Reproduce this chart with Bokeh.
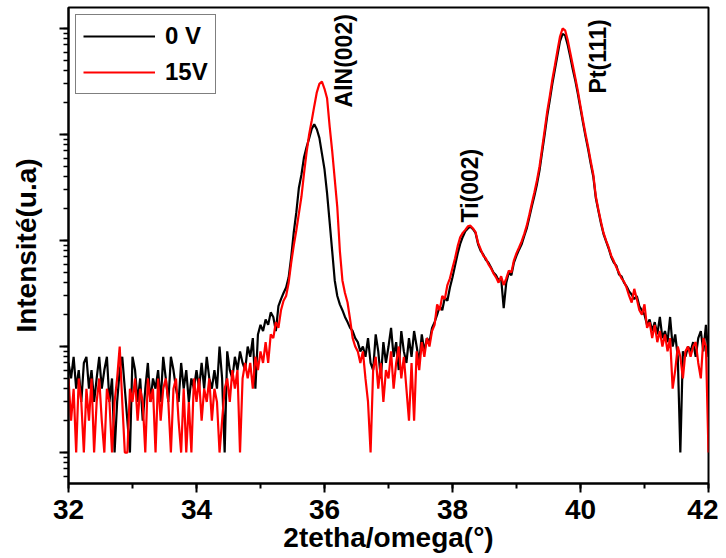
from math import pi
from bokeh.plotting import figure
from bokeh.models import Range1d, SingleIntervalTicker, LogTicker, Label, Legend, LegendItem
from bokeh.embed import file_html
from bokeh.resources import INLINE

# scan grid (2theta, degrees): 32.00 .. 42.00, step 0.04
two_theta = [round(32 + 0.04 * i, 2) for i in range(251)]

# intensity (counts), 0 V sample
counts_0V = (
    [7, 5, 8, 4, 6, 3, 7, 8, 4, 6, 3, 5, 8, 4, 6, 8, 3, 5, 1, 3, 6, 8, 4, 2, 1]
    + [8, 6, 3, 5, 2, 4, 7, 3, 5, 4, 6, 3, 8, 5, 3, 8, 6, 4, 3, 7, 4, 6, 3, 5, 4]
    + [6, 4, 7, 4, 8, 5, 4, 6, 4, 10, 5, 1, 9, 6, 5, 8, 6, 9, 7, 6, 10, 8, 12, 4, 13]
    + [16, 14, 18, 16, 21, 19, 14, 24, 28, 32, 36, 45, 70, 120, 185, 315, 420, 610, 760, 920,
       1130, 1250, 1120, 930, 660]
    + [470, 280, 150, 80, 42, 30, 25, 22, 19, 17, 15, 14, 12, 11, 9, 10, 8, 12, 7, 6, 13, 9, 5, 11, 7]
    + [10, 15, 8, 11, 6, 14, 9, 7, 12, 8, 14, 10, 7, 13, 9, 12, 11, 15, 17, 20, 24, 22, 29, 27, 36]
    + [45, 58, 75, 93, 108, 122, 130, 135, 128, 118, 92, 80, 74, 66, 62, 56, 50, 47, 42, 44,
       23, 40, 50, 47, 62]
    + [72, 82, 92, 110, 130, 165, 210, 265, 340, 460, 680, 1000, 1500, 2100, 3000, 4100, 5600,
       7600, 8900, 8600, 7000, 5400, 4100, 3200, 2400]
    + [1750, 1280, 950, 720, 530, 400, 250, 190, 145, 115, 98, 84, 70, 62, 58, 48, 46, 40, 37, 33,
       31, 28, 30, 24, 22]
    + [20, 16, 18, 14, 17, 13, 19, 12, 14, 11, 19, 10, 13, 8, 1, 9, 8, 10, 9, 11, 8, 12, 14, 9, 16, 8]
)

# intensity (counts), 15 V sample
counts_15V = (
    [5, 2, 4, 1, 5, 3, 1, 4, 2, 5, 1, 3, 5, 2, 1, 4, 3, 1, 3, 5, 10, 3, 1, 1, 4]
    + [3, 5, 2, 4, 3, 1, 5, 3, 4, 1, 5, 2, 4, 5, 3, 1, 4, 5, 2, 1, 4, 1, 3, 1, 5]
    + [3, 5, 2, 4, 3, 5, 2, 4, 3, 1, 2, 4, 5, 3, 6, 4, 6, 1, 5, 7, 5, 7, 4, 8, 6]
    + [9, 7, 11, 7, 13, 12, 17, 15, 22, 27, 30, 40, 62, 90, 125, 180, 260, 430, 680, 1000,
       1350, 1850, 2500, 3000, 3150]
    + [2700, 2200, 1200, 700, 380, 205, 80, 42, 32, 26, 18, 12, 10, 9, 7, 9, 5, 3, 1, 6, 8, 4, 7, 3, 6]
    + [5, 9, 4, 7, 10, 5, 8, 4, 2, 7, 2, 9, 6, 11, 8, 12, 10, 14, 16, 25, 22, 30, 28, 38, 44]
    + [55, 68, 88, 107, 118, 126, 136, 138, 130, 120, 95, 83, 72, 68, 60, 55, 49, 45, 40, 46,
       38, 44, 52, 50, 65]
    + [76, 86, 98, 115, 138, 175, 225, 285, 370, 500, 740, 1100, 1650, 2300, 3300, 4500, 6200,
       8400, 10000, 9600, 7800, 5900, 4500, 3400, 2550]
    + [1850, 1350, 1000, 760, 560, 420, 260, 195, 150, 118, 100, 86, 72, 64, 56, 50, 44, 41, 36, 30,
       26, 35, 28, 22, 20]
    + [25, 15, 17, 12, 16, 11, 14, 10, 13, 9, 12, 4, 6, 10, 8, 5, 9, 10, 8, 10, 11, 7, 5, 12, 10, 1]
)

series_labels = ["0 V", "15V"]
peak_labels = ["AlN(002)", "Ti(002)", "Pt(111)"]
peak_positions = [36.30, 38.27, 40.27]
peak_label_base = [1800, 148, 2440]

FONT = "Liberation Sans"

p = figure(width=718, height=556, y_axis_type="log",
           x_range=Range1d(32, 42), y_range=Range1d(10 ** -0.292, 10 ** 4.198),
           output_backend="svg", toolbar_location=None,
           min_border_left=68, min_border_right=10, min_border_top=7, min_border_bottom=73,
           background_fill_color="white", border_fill_color="white")

p.outline_line_color = "black"
p.outline_line_width = 2
p.xgrid.visible = False
p.ygrid.visible = False

r0 = p.line(two_theta, counts_0V, line_color="black", line_width=2.2)
r1 = p.line(two_theta, counts_15V, line_color="#ff0000", line_width=2.2)

# x axis
xa = p.xaxis[0]
xa.ticker = SingleIntervalTicker(interval=2, num_minor_ticks=2)
xa.axis_label = "2tetha/omega(°)"
xa.axis_label_text_font = FONT
xa.axis_label_text_font_size = "28px"
xa.axis_label_text_font_style = "bold"
xa.axis_label_text_color = "black"
xa.axis_label_standoff = 0
xa.major_label_text_font = FONT
xa.major_label_text_font_size = "28px"
xa.major_label_text_font_style = "bold"
xa.major_label_text_color = "black"
xa.major_label_standoff = 7
xa.axis_line_width = 2
xa.major_tick_line_width = 2
xa.minor_tick_line_width = 2
xa.major_tick_out = 9
xa.major_tick_in = 0
xa.minor_tick_out = 5
xa.minor_tick_in = 0

# y axis (log, no tick labels)
ya = p.yaxis[0]
ya.ticker = LogTicker(num_minor_ticks=10)
ya.axis_label = "Intensité(u.a)"
ya.axis_label_text_font = FONT
ya.axis_label_text_font_size = "28px"
ya.axis_label_text_font_style = "bold"
ya.axis_label_text_color = "black"
ya.axis_label_standoff = 18
ya.major_label_text_font_size = "1px"
ya.major_label_text_alpha = 0
ya.major_label_standoff = 0
ya.axis_line_width = 2
ya.major_tick_line_width = 2
ya.minor_tick_line_width = 1.5
ya.major_tick_out = 9
ya.major_tick_in = 0
ya.minor_tick_out = 5
ya.minor_tick_in = 0

legend = Legend(items=[LegendItem(label=series_labels[0], renderers=[r0]),
                       LegendItem(label=series_labels[1], renderers=[r1])],
                location="top_left")
legend.margin = 7
legend.padding = 7
legend.spacing = 8
legend.glyph_width = 72
legend.glyph_height = 22
legend.label_height = 22
legend.label_standoff = 10
legend.label_text_font = FONT
legend.label_text_font_size = "24px"
legend.label_text_font_style = "bold"
legend.label_text_color = "black"
legend.border_line_color = "black"
legend.border_line_width = 1.5
legend.background_fill_alpha = 1
p.add_layout(legend)

for txt, xp, yb in zip(peak_labels, peak_positions, peak_label_base):
    p.add_layout(Label(x=xp, y=yb, text=txt, angle=pi / 2, angle_units="rad",
                       text_align="left", text_baseline="middle",
                       text_font=FONT, text_font_size="23px", text_font_style="bold",
                       text_color="black"))

open("out.html", "w").write(file_html(p, INLINE))
